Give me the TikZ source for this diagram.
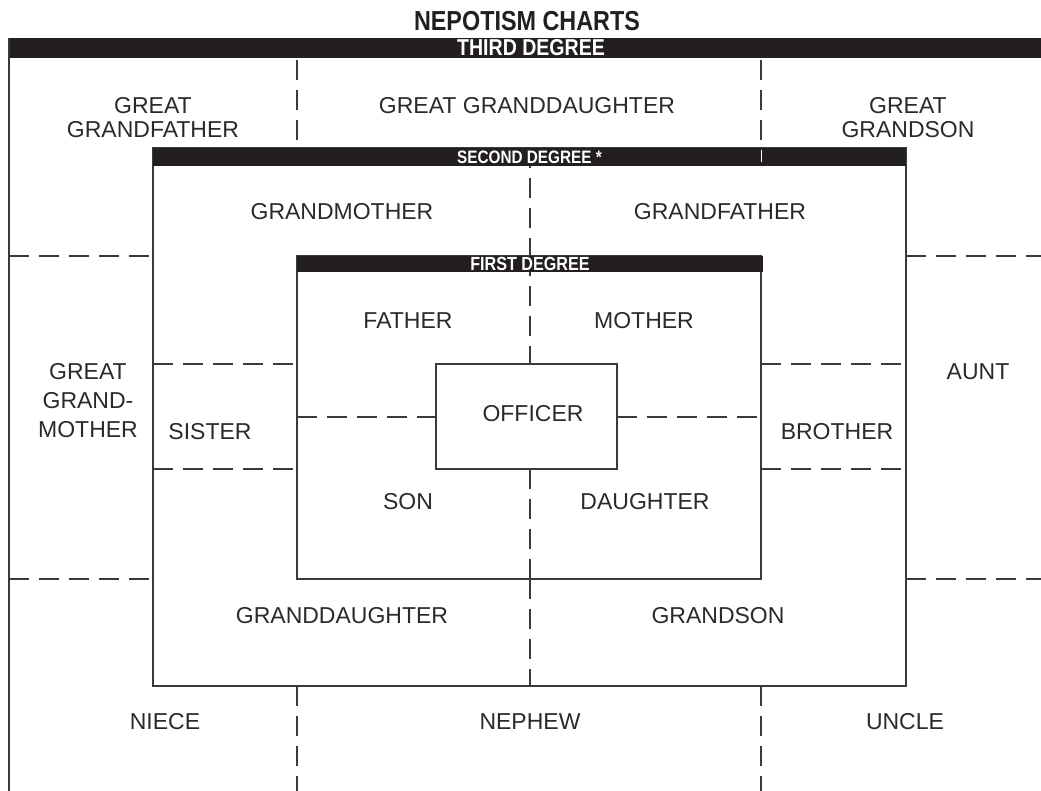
\documentclass[tikz,border=0pt]{standalone}
\usepackage{fontspec}
\setmainfont{Liberation Sans}
\newfontfamily\headfont[FakeStretch=0.85]{Liberation Sans Bold}
\usepackage{xcolor}
\usetikzlibrary{positioning}

\definecolor{inkline}{HTML}{3A3A3A}
\definecolor{inktext}{HTML}{2A2A2A}
\definecolor{barfill}{HTML}{231F20}

\tikzset{
    lbl/.style={inner sep=0pt, text=inktext, align=center, font=\fontsize{23}{24}\selectfont},
    box/.style={draw=inkline, line width=2pt, inner sep=0pt, outer sep=0pt},
    bar/.style={fill=barfill, inner sep=0pt, outer sep=0pt, text=white},
    divider/.style={draw=inkline, line width=2pt, dash pattern=on 20pt off 10pt},
    frame/.style={draw=inkline, line width=2pt}
}

\begin{document}
\begin{tikzpicture}[x=1pt, y=-1pt]
    \useasboundingbox (0,0) rectangle (1041,791);

    % title and outer frame
    \node[inner sep=0pt, text=barfill, font=\headfont\fontsize{27.5}{28}\selectfont] (title) at (527,21) {NEPOTISM CHARTS};
    \coordinate (frameend) at (9,791);
    \coordinate (rightedge) at (1041,0);
    \coordinate (midline) at (530,417);

    % degree boxes
    \node[box, minimum width=753pt, minimum height=538pt] (snd) at (529.5,417) {};
    \node[box, minimum width=464pt, minimum height=323pt] (fst) at (529,417.5) {};
    \node[box, minimum width=181pt, minimum height=105pt] (off) at (526,416.5) {};

    % dividers
    \draw[divider] (midline |- snd.north) -- (midline |- fst.north);
    \draw[divider] (midline |- fst.north) -- (midline |- off.north);
    \draw[divider] (midline |- off.south) -- (midline |- fst.south);
    \draw[divider] (midline |- fst.south) -- (midline |- snd.south);
    \draw[divider] (fst.west |- midline) -- (off.west |- midline);
    \draw[divider] (off.east |- midline) -- (fst.east |- midline);
    \draw[divider] (snd.west |- off.north) -- (fst.west |- off.north);
    \draw[divider] (snd.west |- off.south) -- (fst.west |- off.south);
    \draw[divider] (fst.east |- off.north) -- (snd.east |- off.north);
    \draw[divider] (fst.east |- off.south) -- (snd.east |- off.south);
    \draw[divider] (frameend |- fst.north) -- (snd.west |- fst.north);
    \draw[divider] (snd.east |- fst.north) -- (rightedge |- fst.north);
    \draw[divider] (frameend |- fst.south) -- (snd.west |- fst.south);
    \draw[divider] (snd.east |- fst.south) -- (rightedge |- fst.south);
    \draw[divider] (fst.west |- 0,60) -- (fst.west |- snd.north);
    \draw[divider] (fst.east |- 0,60) -- (fst.east |- snd.north);
    \draw[divider] (fst.west |- snd.south) -- (fst.west |- frameend);
    \draw[divider] (fst.east |- snd.south) -- (fst.east |- frameend);

    % header bars
    \node[bar, minimum width=1032pt, minimum height=20pt, anchor=north west,
          font=\headfont\fontsize{23}{23}\selectfont] (bar3) at (9,38) {\hspace{12pt}THIRD DEGREE};
    \node[bar, minimum width=753pt, minimum height=18pt, anchor=north west,
          font=\headfont\fontsize{18}{18}\selectfont] (bar2) at (snd.north west) {SECOND DEGREE *\hspace{8pt}};
    \node[bar, minimum width=466pt, minimum height=16pt, anchor=north west,
          font=\headfont\fontsize{19}{19}\selectfont] (bar1) at (fst.north west) {FIRST DEGREE\hspace{6pt}};
    \draw[white, line width=1pt] ([yshift=-2pt]fst.east |- bar2.north) -- ([yshift=4pt]fst.east |- bar2.south);
    \draw[frame] (bar3.north west) -- (frameend);

    % third degree
    \node[lbl] (gtgrandfather) at (153,118) {GREAT\\GRANDFATHER};
    \node[lbl] (gtgranddaughter) at (527,106) {GREAT GRANDDAUGHTER};
    \node[lbl] (gtgrandson) at (908,118) {GREAT\\GRANDSON};
    \node[lbl, font=\fontsize{23}{29}\selectfont] (gtgrandmother) at (88,401) {GREAT\\GRAND-\\MOTHER};
    \node[lbl] (aunt) at (978,372) {AUNT};
    \node[lbl] (niece) at (165,722) {NIECE};
    \node[lbl] (nephew) at (530,722) {NEPHEW};
    \node[lbl] (uncle) at (905,722) {UNCLE};

    % second degree
    \node[lbl] (grandmother) at (342,212) {GRANDMOTHER};
    \node[lbl] (grandfather) at (720,212) {GRANDFATHER};
    \node[lbl] (sister) at (210,432) {SISTER};
    \node[lbl] (brother) at (837,432) {BROTHER};
    \node[lbl] (granddaughter) at (342,616) {GRANDDAUGHTER};
    \node[lbl] (grandson) at (718,616) {GRANDSON};

    % first degree
    \node[lbl] (father) at (408,321) {FATHER};
    \node[lbl] (mother) at (644,321) {MOTHER};
    \node[lbl] (son) at (408,502) {SON};
    \node[lbl] (daughter) at (645,502) {DAUGHTER};
    \node[lbl] (officer) at (533,414) {OFFICER};
\end{tikzpicture}
\end{document}
